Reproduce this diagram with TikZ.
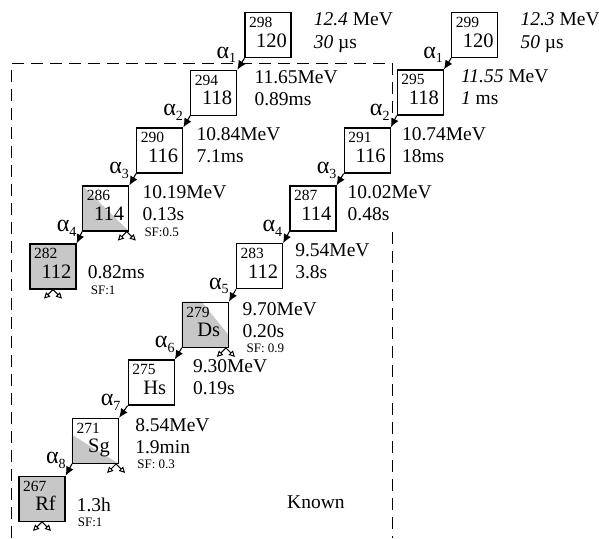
\documentclass[tikz,border=0pt]{standalone}
\usepackage{fontspec}
\setmainfont{Liberation Serif}
\usetikzlibrary{arrows.meta,calc,backgrounds}
\definecolor{sfgray}{gray}{0.78}
\tikzset{
  nucl/.style={draw,line width=1.2pt,minimum width=46pt,minimum height=45pt,inner sep=0pt},
  sfull/.style={nucl,fill=sfgray},
  mass/.style={anchor=base west,inner sep=0pt,font=\fontsize{15.5}{16}\selectfont},
  elem/.style={anchor=base,inner sep=0pt,font=\fontsize{20.5}{21}\selectfont},
  info/.style={anchor=base west,inner sep=0pt,font=\fontsize{19.5}{22}\selectfont},
  sfnote/.style={anchor=base west,inner sep=0pt,font=\fontsize{13}{14}\selectfont},
  alab/.style={anchor=base east,inner sep=0pt,font=\fontsize{24}{24}\selectfont},
  decay/.style={line width=1.1pt,-{Latex[length=9pt,width=8pt]}},
  fis/.style={line width=1pt,-{Triangle[open,length=6pt,width=6pt]}},
  known/.style={line width=1.3pt,dash pattern=on 12pt off 7pt}
}
\newcommand{\alp}[1]{α\raisebox{-4.5pt}{\fontsize{14}{14}\selectfont #1}}
\begin{document}
\begin{tikzpicture}[x=1pt,y=-1pt]
  \useasboundingbox (0,0) rectangle (599,538);
  % known region
  \draw[known] (11.7,538) -- (11.7,63.5) -- (392.5,63.5) -- (392.5,120);
  \draw[known] (392.5,232) -- (392.5,538);
  \node[info] (known) at (287,508) {Known};
  % chain of 298
  \node[nucl] (b298) at (268,35.2) {};
  \node[nucl] (b294) at (213.7,92.8) {};
  \node[nucl] (b290) at (159.7,150.5) {};
  \node[nucl] (b286) at (105.7,208.5) {};
  \node[sfull] (b282) at (53,266.5) {};
  % chain of 299
  \node[nucl] (b299) at (474.7,35.2) {};
  \node[nucl] (b295) at (420.3,92.5) {};
  \node[nucl] (b291) at (367.2,150.5) {};
  \node[nucl] (b287) at (312.9,208.5) {};
  \node[nucl] (b283) at (259.5,266.3) {};
  \node[nucl] (b279) at (205.3,324.8) {};
  \node[nucl] (b275) at (151.2,382.5) {};
  \node[nucl] (b271) at (95.5,440.8) {};
  \node[sfull] (b267) at (42,498.8) {};
  % partial fission shading
  \begin{scope}[on background layer]
    \fill[sfgray] (b286.north west) -- (b286.south east) -- (b286.south west) -- cycle;
    \fill[sfgray] (b279.north west) -- ($(b279.north west)!0.42!(b279.north east)$)
      -- ($(b279.north east)!0.73!(b279.south east)$) -- (b279.south east) -- (b279.south west) -- cycle;
    \fill[sfgray] ($(b271.north west)!0.37!(b271.south west)$) -- (b271.south east) -- (b271.south west) -- cycle;
  \end{scope}
  % box texts
  \node[mass] (m298) at ([xshift=4.5pt,yshift=-15.5pt]b298.north west) {298};
  \node[elem] (z298) at ([xshift=3.5pt,yshift=-35pt]b298.north) {120};
  \node[mass] (m294) at ([xshift=4.5pt,yshift=-15.5pt]b294.north west) {294};
  \node[elem] (z294) at ([xshift=3.5pt,yshift=-35pt]b294.north) {118};
  \node[mass] (m290) at ([xshift=4.5pt,yshift=-15.5pt]b290.north west) {290};
  \node[elem] (z290) at ([xshift=3.5pt,yshift=-35pt]b290.north) {116};
  \node[mass] (m286) at ([xshift=4.5pt,yshift=-15.5pt]b286.north west) {286};
  \node[elem] (z286) at ([xshift=3.5pt,yshift=-35pt]b286.north) {114};
  \node[mass] (m282) at ([xshift=4.5pt,yshift=-15.5pt]b282.north west) {282};
  \node[elem] (z282) at ([xshift=3.5pt,yshift=-35pt]b282.north) {112};
  \node[mass] (m299) at ([xshift=4.5pt,yshift=-15.5pt]b299.north west) {299};
  \node[elem] (z299) at ([xshift=3.5pt,yshift=-35pt]b299.north) {120};
  \node[mass] (m295) at ([xshift=4.5pt,yshift=-15.5pt]b295.north west) {295};
  \node[elem] (z295) at ([xshift=3.5pt,yshift=-35pt]b295.north) {118};
  \node[mass] (m291) at ([xshift=4.5pt,yshift=-15.5pt]b291.north west) {291};
  \node[elem] (z291) at ([xshift=3.5pt,yshift=-35pt]b291.north) {116};
  \node[mass] (m287) at ([xshift=4.5pt,yshift=-15.5pt]b287.north west) {287};
  \node[elem] (z287) at ([xshift=3.5pt,yshift=-35pt]b287.north) {114};
  \node[mass] (m283) at ([xshift=4.5pt,yshift=-15.5pt]b283.north west) {283};
  \node[elem] (z283) at ([xshift=3.5pt,yshift=-35pt]b283.north) {112};
  \node[mass] (m279) at ([xshift=4.5pt,yshift=-15.5pt]b279.north west) {279};
  \node[elem] (z279) at ([xshift=3.5pt,yshift=-35pt]b279.north) {Ds};
  \node[mass] (m275) at ([xshift=4.5pt,yshift=-15.5pt]b275.north west) {275};
  \node[elem] (z275) at ([xshift=3.5pt,yshift=-35pt]b275.north) {Hs};
  \node[mass] (m271) at ([xshift=4.5pt,yshift=-15.5pt]b271.north west) {271};
  \node[elem] (z271) at ([xshift=3.5pt,yshift=-35pt]b271.north) {Sg};
  \node[mass] (m267) at ([xshift=4.5pt,yshift=-15.5pt]b267.north west) {267};
  \node[elem] (z267) at ([xshift=3.5pt,yshift=-35pt]b267.north) {Rf};
  % alpha decays
  \draw[decay] (b298.south west) -- (b294.north east);
  \draw[decay] (b294.south west) -- (b290.north east);
  \draw[decay] (b290.south west) -- (b286.north east);
  \draw[decay] (b286.south west) -- (b282.north east);
  \draw[decay] (b299.south west) -- (b295.north east);
  \draw[decay] (b295.south west) -- (b291.north east);
  \draw[decay] (b291.south west) -- (b287.north east);
  \draw[decay] (b287.south west) -- (b283.north east);
  \draw[decay] (b283.south west) -- (b279.north east);
  \draw[decay] (b279.south west) -- (b275.north east);
  \draw[decay] (b275.south west) -- (b271.north east);
  \draw[decay] (b271.south west) -- (b267.north east);
  \node[alab] (a298) at ([xshift=-8pt]b298.south west) {\alp{1}};
  \node[alab] (a294) at ([xshift=-7pt]b294.south west) {\alp{2}};
  \node[alab] (a290) at ([xshift=-7pt]b290.south west) {\alp{3}};
  \node[alab] (a286) at ([xshift=-5.5pt]b286.south west) {\alp{4}};
  \node[alab] (a299) at ([xshift=-8pt]b299.south west) {\alp{1}};
  \node[alab] (a295) at ([xshift=-7pt]b295.south west) {\alp{2}};
  \node[alab] (a291) at ([xshift=-7pt]b291.south west) {\alp{3}};
  \node[alab] (a287) at ([xshift=-7pt]b287.south west) {\alp{4}};
  \node[alab] (a283) at ([xshift=-7pt]b283.south west) {\alp{5}};
  \node[alab] (a279) at ([xshift=-7pt]b279.south west) {\alp{6}};
  \node[alab] (a275) at ([xshift=-7pt]b275.south west) {\alp{7}};
  \node[alab] (a271) at ([xshift=-6pt]b271.south west) {\alp{8}};
  % energies and half-lives
  \node[info] (e298) at ([xshift=22pt,yshift=-13.5pt]b298.north east) {\textit{12.4} MeV};
  \node[info] (t298) at ([xshift=22pt,yshift=-36pt]b298.north east) {\textit{30} µs};
  \node[info] (e299) at ([xshift=22pt,yshift=-13.5pt]b299.north east) {\textit{12.3} MeV};
  \node[info] (t299) at ([xshift=22pt,yshift=-36pt]b299.north east) {\textit{50} µs};
  \node[info] (e294) at ([xshift=17pt,yshift=-13.5pt]b294.north east) {11.65MeV};
  \node[info] (t294) at ([xshift=17pt,yshift=-35.5pt]b294.north east) {0.89ms};
  \node[info] (e295) at ([xshift=17pt,yshift=-13.5pt]b295.north east) {\textit{11.55} MeV};
  \node[info] (t295) at ([xshift=17pt,yshift=-35.5pt]b295.north east) {\textit{1} ms};
  \node[info] (e290) at ([xshift=13pt,yshift=-13.5pt]b290.north east) {10.84MeV};
  \node[info] (t290) at ([xshift=13pt,yshift=-35.5pt]b290.north east) {7.1ms};
  \node[info] (e291) at ([xshift=11pt,yshift=-13.5pt]b291.north east) {10.74MeV};
  \node[info] (t291) at ([xshift=11pt,yshift=-35.5pt]b291.north east) {18ms};
  \node[info] (e286) at ([xshift=13pt,yshift=-13.5pt]b286.north east) {10.19MeV};
  \node[info] (t286) at ([xshift=13pt,yshift=-35.5pt]b286.north east) {0.13s};
  \node[sfnote] (f286) at ([xshift=15pt,yshift=-51pt]b286.north east) {SF:0.5};
  \node[info] (e287) at ([xshift=11pt,yshift=-13.5pt]b287.north east) {10.02MeV};
  \node[info] (t287) at ([xshift=11pt,yshift=-35.5pt]b287.north east) {0.48s};
  \node[info] (t282) at ([xshift=11pt,yshift=-35.5pt]b282.north east) {0.82ms};
  \node[sfnote] (f282) at ([xshift=14pt,yshift=-51pt]b282.north east) {SF:1};
  \node[info] (e283) at ([xshift=12pt,yshift=-13.5pt]b283.north east) {9.54MeV};
  \node[info] (t283) at ([xshift=12pt,yshift=-35.5pt]b283.north east) {3.8s};
  \node[info] (e279) at ([xshift=13.5pt,yshift=-13.5pt]b279.north east) {9.70MeV};
  \node[info] (t279) at ([xshift=13.5pt,yshift=-35.5pt]b279.north east) {0.20s};
  \node[sfnote] (f279) at ([xshift=17.5pt,yshift=-51pt]b279.north east) {SF: 0.9};
  \node[info] (e275) at ([xshift=18pt,yshift=-13.5pt]b275.north east) {9.30MeV};
  \node[info] (t275) at ([xshift=18pt,yshift=-35.5pt]b275.north east) {0.19s};
  \node[info] (e271) at ([xshift=16pt,yshift=-13.5pt]b271.north east) {8.54MeV};
  \node[info] (t271) at ([xshift=16pt,yshift=-35.5pt]b271.north east) {1.9min};
  \node[sfnote] (f271) at ([xshift=18pt,yshift=-51pt]b271.north east) {SF: 0.3};
  \node[info] (t267) at ([xshift=11pt,yshift=-35.5pt]b267.north east) {1.3h};
  \node[sfnote] (f267) at ([xshift=12pt,yshift=-51pt]b267.north east) {SF:1};
  % spontaneous fission
  \coordinate (c286) at ([xshift=-2.5pt]b286.south east);
  \coordinate (c282) at (b282.south);
  \coordinate (c279) at ([xshift=-3pt]b279.south east);
  \coordinate (c271) at ([xshift=-3pt]b271.south east);
  \coordinate (c267) at (b267.south);
  \draw[fis] (c286) -- ++(-9,9);
  \draw[fis] (c286) -- ++(9,9);
  \draw[fis] (c282) -- ++(-9,9);
  \draw[fis] (c282) -- ++(9,9);
  \draw[fis] (c279) -- ++(-9,9);
  \draw[fis] (c279) -- ++(9,9);
  \draw[fis] (c271) -- ++(-9,9);
  \draw[fis] (c271) -- ++(9,9);
  \draw[fis] (c267) -- ++(-9,9);
  \draw[fis] (c267) -- ++(9,9);
\end{tikzpicture}
\end{document}
